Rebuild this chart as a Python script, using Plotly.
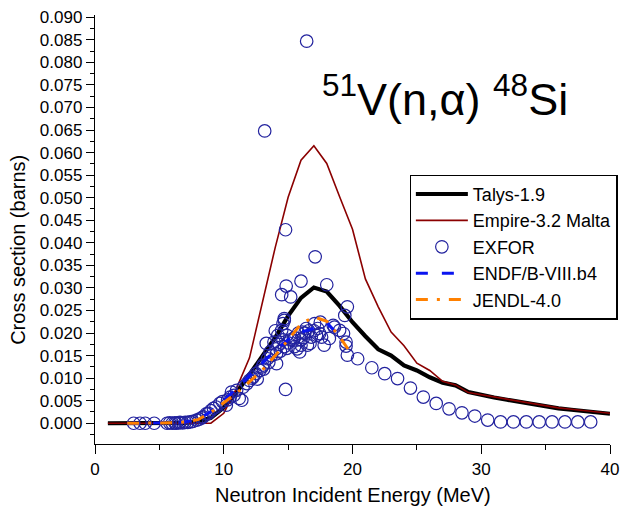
import plotly.graph_objects as go

# ---------------- data ----------------
talys_e = list(range(1, 41))
talys_xs = [0.0, 0.0, 0.0, 0.0, 0.0, 0.0, 0.0001, 0.0003, 0.0012, 0.0035,
            0.0068, 0.0108, 0.0150, 0.0190, 0.0238, 0.0278, 0.0301, 0.0292, 0.0260, 0.0224,
            0.0193, 0.0164, 0.0150, 0.0128, 0.0117, 0.0102, 0.0090, 0.0084, 0.0069, 0.0062,
            0.0057, 0.0052, 0.0047, 0.0042, 0.0036, 0.0033, 0.0030, 0.0027, 0.0024, 0.0021]

empire_e = list(range(1, 41))
empire_xs = [0.0, 0.0, 0.0, 0.0, 0.0, 0.0, 0.0, 0.0, 0.0, 0.0022,
             0.0078, 0.0145, 0.0270, 0.0390, 0.0501, 0.0583, 0.0615, 0.0576, 0.0502, 0.0430,
             0.0320, 0.0258, 0.0202, 0.0172, 0.0133, 0.0117, 0.0093, 0.0085, 0.0068, 0.0063,
             0.0058, 0.0053, 0.0048, 0.0043, 0.0038, 0.0034, 0.0031, 0.0028, 0.0025, 0.0022]

endf_e = [2.5, 6, 7, 8, 9, 10, 11, 12, 13, 14, 15, 16, 17, 18, 19.3]
endf_xs = [0.0, 0.0001, 0.0003, 0.0009, 0.0026, 0.0050, 0.0077, 0.0106, 0.0135, 0.0162,
           0.0185, 0.0202, 0.0210, 0.0223, 0.0183]

jendl_e = [2.5, 6, 7, 8, 9, 10, 11, 12, 13, 14, 15, 16, 17, 18, 19, 20]
jendl_xs = [0.0, 0.0001, 0.0003, 0.0008, 0.0024, 0.0045, 0.0067, 0.0092, 0.0118, 0.0150,
            0.0185, 0.0220, 0.0236, 0.0226, 0.0192, 0.0150]

exfor_e = [3.0, 3.5, 3.9, 4.6, 5.6, 5.8, 6.0, 6.2, 6.3, 6.5, 6.6, 6.8, 7.0, 7.2, 7.4, 7.6,
           7.9, 8.1, 8.3, 8.4, 8.65, 8.8, 9.0, 9.2, 9.4, 9.7, 9.9, 10.2, 10.3, 10.5, 10.6,
           10.8, 11.0, 11.2, 11.4, 11.5, 11.8, 12.0, 12.2, 12.3, 12.5, 12.6, 12.8, 13.0,
           13.05, 13.1, 13.18, 13.3, 13.4, 13.5, 13.6, 13.7, 13.9, 14.0, 14.05, 14.1, 14.1,
           14.2, 14.3, 14.4, 14.5, 14.5, 14.6, 14.6, 14.7, 14.7, 14.7, 14.8, 14.8, 14.85,
           14.9, 14.9, 15.0, 15.2, 15.2, 15.4, 15.5, 15.5, 15.7, 15.8, 15.9, 16.0, 16.0,
           16.0, 16.1, 16.2, 16.3, 16.4, 16.44, 16.5, 16.6, 16.7, 16.8, 17.0, 17.06, 17.1,
           17.2, 17.3, 17.45, 17.5, 17.6, 17.8, 18.0, 18.2, 18.5, 18.6, 19.0, 19.3, 19.4,
           19.5, 19.5, 19.6, 19.6, 20.4, 21.5, 22.5, 23.5, 24.5, 25.5, 26.5, 27.5, 28.5,
           29.5, 30.5, 31.5, 32.5, 33.5, 34.5, 35.5, 36.5, 37.5, 38.5]
exfor_xs = [0.0, 0.0, 0.0, 0.0, 0.0, 0.0001, 0.0, 0.0001, 0.0, 0.0001, 0.0002, 0.0001, 0.0002,
            0.0002, 0.0003, 0.0004,
            0.0007, 0.0009, 0.0012, 0.0014, 0.0021, 0.0022, 0.0028, 0.0033, 0.0036, 0.0044,
            0.0048, 0.0040, 0.0052, 0.0058, 0.0069,
            0.0062, 0.0073, 0.0055, 0.0051, 0.0080, 0.0088, 0.0095, 0.0100, 0.0103, 0.0110,
            0.0098, 0.0117, 0.0125,
            0.0129, 0.0120, 0.0648, 0.0177, 0.0143, 0.0135, 0.0158, 0.0150, 0.0180, 0.0205,
            0.0165, 0.0154, 0.0132,
            0.0195, 0.0175, 0.0160, 0.0206, 0.0285, 0.0221, 0.0185, 0.0232, 0.0228, 0.0170,
            0.0429, 0.0075, 0.0304,
            0.0166, 0.0195, 0.0178, 0.0280, 0.0185, 0.0184, 0.0170, 0.0190, 0.0165, 0.0200,
            0.0158, 0.0315, 0.0173,
            0.0185, 0.0202, 0.0190, 0.0200, 0.0210, 0.0847, 0.0173, 0.0205, 0.0177, 0.0191,
            0.0205, 0.0221, 0.0369,
            0.0195, 0.0210, 0.0199, 0.0224, 0.0191, 0.0173, 0.0307, 0.0188, 0.0217, 0.0213,
            0.0206, 0.0199, 0.0239,
            0.0180, 0.0171, 0.0258, 0.0151, 0.0143, 0.0123, 0.0110, 0.0099, 0.0078, 0.0058,
            0.0044, 0.0032, 0.0023,
            0.0016, 0.0007, 0.0003, 0.0003, 0.0003, 0.0003, 0.0003, 0.0003, 0.0003, 0.0003]

x_ticks = [0, 10, 20, 30, 40]

# ---------------- figure ----------------
FONT = "Arial, Liberation Sans, sans-serif"
fig = go.Figure()

fig.add_trace(go.Scatter(x=talys_e, y=talys_xs, mode="lines", name="Talys-1.9",
                         line=dict(color="black", width=4.2)))
fig.add_trace(go.Scatter(x=empire_e, y=empire_xs, mode="lines", name="Empire-3.2 Malta",
                         line=dict(color="#8b0000", width=1.6)))
fig.add_trace(go.Scatter(x=exfor_e, y=exfor_xs, mode="markers", name="EXFOR",
                         marker=dict(symbol="circle-open", size=12.5, color="#22229e",
                                     line=dict(width=1.2, color="#22229e"))))
fig.add_trace(go.Scatter(x=endf_e, y=endf_xs, mode="lines", name="ENDF/B-VIII.b4",
                         line=dict(color="#0a14f0", width=3, dash="12px,14px")))
fig.add_trace(go.Scatter(x=jendl_e, y=jendl_xs, mode="lines", name="JENDL-4.0",
                         line=dict(color="#ff8000", width=3, dash="12px,9px,3px,9px")))

fig.update_layout(
    width=626, height=509,
    margin=dict(l=95, r=16, t=15, b=65, autoexpand=False),
    paper_bgcolor="white", plot_bgcolor="white",
    font=dict(family=FONT, color="black", size=17),
    showlegend=True,
    legend=dict(x=0.611, y=0.628, xanchor="left", yanchor="top",
                bgcolor="white", bordercolor="black", borderwidth=1.2,
                font=dict(family=FONT, size=18, color="black"),
                itemwidth=52, tracegroupgap=0),
    annotations=[
        dict(text="<sup>51</sup>V(n,α) <sup>48</sup>Si", xref="paper", yref="paper",
             x=0.679, y=0.812, xanchor="center", yanchor="middle", showarrow=False,
             font=dict(family=FONT, size=45, color="black")),
        dict(text="Cross section (barns)", xref="paper", yref="paper",
             x=-0.150, y=0.452, xanchor="center", yanchor="middle", textangle=-90,
             showarrow=False, font=dict(family=FONT, size=20, color="black")),
        dict(text="Neutron Incident Energy (MeV)", xref="paper", yref="paper",
             x=0.5, y=-0.12, xanchor="center", yanchor="middle",
             showarrow=False, font=dict(family=FONT, size=20, color="black")),
    ],
)

fig.update_xaxes(range=[0, 40], tickvals=x_ticks, ticktext=[str(v) for v in x_ticks],
                 ticks="outside", ticklen=9, tickwidth=1.4, tickcolor="black",
                 showline=True, linecolor="black", linewidth=1.4,
                 showgrid=False, zeroline=False,
                 minor=dict(ticks="outside", ticklen=5, tickwidth=1.4, tickcolor="black",
                            dtick=5, tick0=0, showgrid=False),
                 tickfont=dict(family=FONT, size=17, color="black"))
fig.update_yaxes(range=[-0.0046, 0.0905], dtick=0.005, tick0=0, tickformat=".3f",
                 ticks="outside", ticklen=8, tickwidth=1.4, tickcolor="black",
                 showline=True, linecolor="black", linewidth=1.4,
                 showgrid=False, zeroline=False,
                 minor=dict(ticks="outside", ticklen=4, tickwidth=1.4, tickcolor="black",
                            dtick=0.0025, tick0=0, showgrid=False),
                 tickfont=dict(family=FONT, size=17, color="black"))

fig.write_html("out.html", config={"displayModeBar": False},
               post_script="document.body.style.margin='0';document.body.style.overflow='hidden';")
